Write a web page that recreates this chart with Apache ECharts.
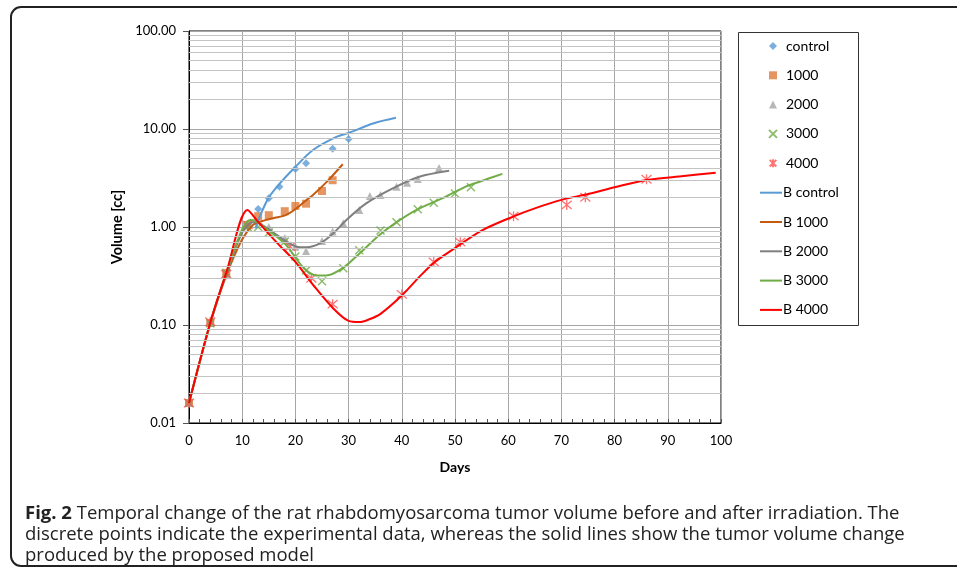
<!DOCTYPE html>
<html>
<head>
<meta charset="utf-8">
<script src="https://cdn.jsdelivr.net/npm/echarts@6/dist/echarts.min.js"></script>
<style>
  html, body { margin: 0; padding: 0; background: #fff; }
  #chart { width: 957px; height: 570px; }
</style>
</head>
<body>
<div id="chart"></div>
<script>
// measured points [day, volume cc]
const controlPts = [[0, 0.016], [4, 0.107], [7, 0.33], [11, 1.02], [13, 1.53], [15, 1.96], [17, 2.58], [20, 3.91], [22, 4.47], [27, 6.3], [30, 7.9]];
const dose1000Pts = [[0, 0.016], [4, 0.105], [7, 0.34], [11, 1.05], [13, 1.29], [15, 1.32], [18, 1.45], [20, 1.64], [22, 1.73], [25, 2.33], [27, 3.0]];
const dose2000Pts = [[0, 0.016], [4, 0.106], [7, 0.33], [11, 1.05], [15, 1.0], [18, 0.77], [20, 0.63], [22, 0.57], [25, 0.72], [27, 0.9], [29, 1.09], [32, 1.49], [34, 2.07], [36, 2.12], [39, 2.58], [41, 2.83], [43, 3.09], [47, 4.0]];
const dose3000Pts = [[0, 0.016], [4, 0.104], [7, 0.34], [11, 1.0], [13, 1.0], [15, 0.88], [18, 0.71], [20, 0.5], [22, 0.36], [25, 0.28], [29, 0.38], [32, 0.58], [36, 0.92], [39, 1.12], [43, 1.52], [46, 1.77], [50, 2.2], [53, 2.54]];
const dose4000Pts = [[0, 0.016], [4, 0.108], [7, 0.33], [11, 1.05], [19, 0.63], [23, 0.3], [27, 0.163], [40, 0.205], [46, 0.44], [51, 0.7], [61, 1.29], [71, 1.68], [74.5, 2.01], [86, 3.07]];

// model curves
const bControl = [[12.5, 0.97], [13.5, 1.35], [14.9, 1.96], [17, 2.75], [19.75, 3.97], [23.3, 6.1], [27.7, 8.3], [30.2, 9.2], [34.6, 11.4], [38.9, 13.0]];
const b1000 = [[0, 0.016], [4, 0.103], [7, 0.32], [10, 0.75], [12, 1.05], [13.3, 1.13], [15.8, 1.23], [18.3, 1.33], [20.2, 1.55], [22.1, 1.89], [23.3, 2.12], [25.8, 2.85], [28.9, 4.37]];
const b2000 = [[0, 0.016], [4, 0.104], [7, 0.33], [10, 0.88], [12, 1.12], [13, 1.1], [15.2, 0.93], [18.3, 0.71], [20.2, 0.63], [22.1, 0.62], [24.6, 0.68], [27.1, 0.86], [29.6, 1.18], [33.3, 1.74], [38.3, 2.48], [43.3, 3.26], [48.9, 3.75]];
const b3000 = [[0, 0.016], [4, 0.105], [7, 0.34], [10, 0.95], [11.5, 1.18], [12.5, 1.15], [15.2, 0.9], [18.3, 0.65], [21.4, 0.39], [23.9, 0.32], [25.8, 0.32], [28.9, 0.38], [32.1, 0.54], [35.8, 0.83], [38.9, 1.11], [42.7, 1.49], [48.3, 2.04], [52.1, 2.6], [54.6, 2.9], [58.9, 3.48]];
const b4000 = [[0, 0.016], [4, 0.106], [7, 0.34], [11, 1.49], [13, 1.13], [15, 0.85], [17, 0.65], [20, 0.44], [23.5, 0.25], [27, 0.15], [30, 0.11], [32, 0.107], [34, 0.115], [36, 0.13], [40, 0.2], [43.3, 0.31], [46, 0.43], [50, 0.61], [55, 0.92], [60.8, 1.27], [65, 1.55], [70, 1.89], [75, 2.17], [80, 2.54], [86, 3.02], [93, 3.31], [99, 3.58]];

const pointNames = ["control", "1000", "2000", "3000", "4000"];
const curveNames = ["B control", "B 1000", "B 2000", "B 3000", "B 4000"];
const xTicks = [0, 10, 20, 30, 40, 50, 60, 70, 80, 90, 100];

var FONT = "Lato, 'Liberation Sans', sans-serif";
var CROSS = "path://M0 0L10 10M10 0L0 10";
var STAR = "path://M0 0L10 10M10 0L0 10M5 -1L5 11";

// minor horizontal grid lines (2..9 in each decade)
var minorLines = [];
for (var k = -2; k <= 1; k++) {
  for (var m = 2; m <= 9; m++) {
    minorLines.push({ yAxis: m * Math.pow(10, k) });
  }
}

function scatter(name, data, symbol, size, style) {
  return {
    name: name,
    type: "scatter",
    data: data,
    symbol: symbol,
    symbolSize: size,
    itemStyle: style,
    z: 3
  };
}

function curve(name, data, color) {
  return {
    name: name,
    type: "line",
    data: data,
    showSymbol: false,
    symbol: "none",
    smooth: 0.3,
    lineStyle: { color: color, width: 2 },
    itemStyle: { color: color },
    z: 4
  };
}

var chart = echarts.init(document.getElementById("chart"));
var series = [
  scatter(pointNames[0], controlPts, "diamond", 8, { color: "#5B9BD5" }),
  scatter(pointNames[1], dose1000Pts, "rect", 8, { color: "#E07B39" }),
  scatter(pointNames[2], dose2000Pts, "triangle", 8, { color: "#A5A5A5" }),
  scatter(pointNames[3], dose3000Pts, CROSS, 8, { color: "transparent", borderColor: "#70AD47", borderWidth: 1.5 }),
  scatter(pointNames[4], dose4000Pts, STAR, 10, { color: "transparent", borderColor: "#FF5050", borderWidth: 1.3 }),
  curve(curveNames[0], bControl, "#5B9BD5"),
  curve(curveNames[1], b1000, "#C55A11"),
  curve(curveNames[2], b2000, "#7F7F7F"),
  curve(curveNames[3], b3000, "#70AD47"),
  curve(curveNames[4], b4000, "#FF0000")
];
// minor grid drawn behind everything
series.push({
  type: "line",
  data: [],
  silent: true,
  z: 1,
  markLine: {
    silent: true,
    symbol: "none",
    label: { show: false },
    lineStyle: { color: "#C4C4C4", width: 1, type: "solid" },
    emphasis: { disabled: true },
    data: minorLines
  }
});

var legendText = { fontFamily: FONT, fontSize: 14, color: "#000", lineHeight: 16 };

chart.setOption({
  animation: false,
  backgroundColor: "#fff",
  textStyle: { fontFamily: FONT },
  grid: {
    left: 189, top: 31, right: 236, bottom: 147,
    show: true, borderColor: "#000", borderWidth: 1, backgroundColor: "#fff"
  },
  legend: [
    {
      data: pointNames,
      orient: "vertical",
      left: 768, top: 38,
      padding: 0,
      itemWidth: 8, itemHeight: 8,
      itemGap: 13.3,
      textStyle: Object.assign({ padding: [0, 0, 0, 4] }, legendText)
    },
    {
      data: curveNames,
      icon: "rect",
      orient: "vertical",
      left: 760, top: 184.7,
      padding: 0,
      itemWidth: 22, itemHeight: 2,
      itemGap: 13.3,
      textStyle: Object.assign({ padding: [0, 0, 0, -4] }, legendText)
    }
  ],
  xAxis: {
    type: "value",
    min: 0, max: 100, interval: 10,
    name: "Days",
    nameLocation: "middle",
    nameGap: 37,
    nameTextStyle: { fontFamily: FONT, fontSize: 14, fontWeight: "bold", color: "#000" },
    axisLine: { lineStyle: { color: "#000", width: 1 } },
    axisTick: { show: true, inside: true, length: 4, lineStyle: { color: "#555" } },
    minorTick: { show: true, splitNumber: 5, length: 4, lineStyle: { color: "#555" } },
    axisLabel: {
      fontSize: 13, color: "#000", margin: 11,
      formatter: function (v) { return xTicks.indexOf(v) >= 0 ? String(v) : ""; }
    },
    splitLine: { show: true, lineStyle: { color: "#A6A6A6", width: 1 } }
  },
  yAxis: {
    type: "log",
    logBase: 10,
    min: 0.01, max: 100,
    name: "Volume [cc]",
    nameLocation: "middle",
    nameGap: 60,
    nameTextStyle: { fontFamily: FONT, fontSize: 14.5, fontWeight: "bold", color: "#000" },
    axisLine: { show: true, lineStyle: { color: "#000", width: 1 } },
    axisTick: { show: true, inside: false, length: 6, lineStyle: { color: "#555" } },
    axisLabel: {
      fontSize: 13, color: "#000", margin: 13,
      formatter: function (v) { return Number(v).toFixed(2); }
    },
    splitLine: { show: true, lineStyle: { color: "#A6A6A6", width: 1 } }
  },
  graphic: [
    {
      type: "rect",
      shape: { x: 11, y: 7, width: 980, height: 559, r: 10 },
      style: { fill: "none", stroke: "#222", lineWidth: 2 },
      silent: true
    },
    {
      type: "rect",
      shape: { x: 738.5, y: 32.5, width: 120, height: 293 },
      style: { fill: "none", stroke: "#333", lineWidth: 1 },
      silent: true
    },
    {
      type: "text",
      left: 25, top: 503,
      style: {
        text: "{b|Fig. 2} Temporal change of the rat rhabdomyosarcoma tumor volume before and after irradiation. The\n" +
              "discrete points indicate the experimental data, whereas the solid lines show the tumor volume change\n" +
              "produced by the proposed model",
        fontFamily: "'Open Sans', sans-serif",
        fontSize: 18.5,
        lineHeight: 21,
        fill: "#222",
        rich: {
          b: { fontFamily: "'Open Sans', sans-serif", fontSize: 18.5, fontWeight: "bold", fill: "#222", lineHeight: 21 }
        }
      },
      silent: true
    }
  ],
  series: series
});
</script>
</body>
</html>
